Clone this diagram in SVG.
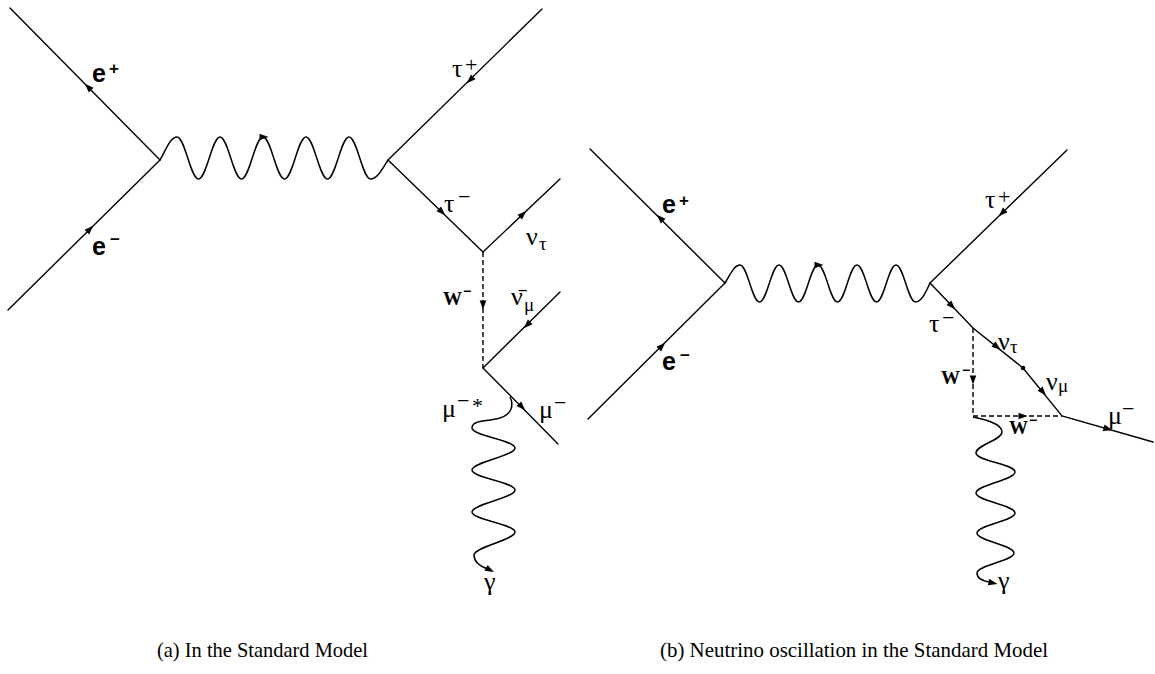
<svg xmlns="http://www.w3.org/2000/svg" xmlns:xlink="http://www.w3.org/1999/xlink" width="1155" height="674" viewBox="0 0 1155 674">
<style>
.ln{stroke:#000;stroke-width:1.4;fill:none;stroke-linecap:round}
.ds{stroke:#000;stroke-width:1.4;fill:none;stroke-dasharray:5,3}
.wv{stroke:#000;stroke-width:1.5;fill:none}
.ah{fill:#000}
.g{font-family:"Liberation Serif","Times New Roman",serif;font-size:26px;fill:#000}
.gs{font-family:"Liberation Serif","Times New Roman",serif;font-size:19px;fill:#000}
.sup{font-family:"Liberation Serif","Times New Roman",serif;font-size:22px;fill:#000}
.e{font-family:"Liberation Sans",Arial,sans-serif;font-weight:bold;font-size:25px;fill:#000}
.es{font-family:"Liberation Sans",Arial,sans-serif;font-weight:bold;font-size:17px;fill:#000}
.w{font-family:"Liberation Serif","Times New Roman",serif;font-weight:bold;font-size:19px;fill:#000}
.ws{font-family:"Liberation Sans",Arial,sans-serif;font-weight:bold;font-size:14px;fill:#000}
.cap{font-family:"Liberation Serif","Times New Roman",serif;font-size:21px;fill:#000}
</style>
<defs>
<path id="ah" class="ah" d="M4.5,0 L-4.5,-3.3 L-4.5,3.3 Z"/>
</defs>
<rect width="1155" height="674" fill="#fff"/>

<g id="connectors">
<!-- left diagram -->
<line class="ln" x1="10" y1="8" x2="160" y2="160"/>
<line class="ln" x1="8" y1="310" x2="160" y2="160"/>
<path class="wv" d="M160,160 C165,152 170,137 177,137 C185,137 190.5,179 198.5,179 C206.5,179 212,137 220,137 C228,137 233.5,179 241.5,179 C249.5,179 255,137 263,137 C271,137 276.5,179 284.5,179 C292.5,179 298,137 306,137 C314,137 319.5,179 327.5,179 C335.5,179 341,137 349,137 C357,137 362.5,179 370.5,179 C377.5,179 383,168 388,160"/>
<line class="ln" x1="388" y1="160" x2="542" y2="9"/>
<line class="ln" x1="388" y1="160" x2="483" y2="252"/>
<line class="ln" x1="483" y1="252" x2="560" y2="179"/>
<line class="ds" x1="483" y1="252" x2="483" y2="368"/>
<line class="ln" x1="483" y1="368" x2="560" y2="292"/>
<line class="ln" x1="483" y1="368" x2="558" y2="444"/>
<path class="wv" d="M510,397 C514,405 512,414 500,418 C485,422 472,420 472,428 C472,436 515,440 515,448 C515,456 472,462 472,470 C472,478 515,482 515,490 C515,498 472,504 472,512 C472,520 515,524 515,532 C515,540 474,547 474,555 C474,562 479,566 488,569"/>
<!-- right diagram -->
<line class="ln" x1="590" y1="149" x2="725" y2="283"/>
<line class="ln" x1="588" y1="419" x2="725" y2="283"/>
<path class="wv" d="M725,283 C730,275 734,265 740,265 C747.5,265 752,302 759.5,302 C767,302 771.5,265 779,265 C786.5,265 791,302 798.5,302 C806,302 810.5,265 818,265 C825.5,265 830,302 837.5,302 C845,302 849.5,265 857,265 C864.5,265 869,302 876.5,302 C884,302 888.5,265 896,265 C903.5,265 908,302 915.5,302 C921.5,302 926,292 930,283"/>
<line class="ln" x1="930" y1="283" x2="1067" y2="150"/>
<polyline class="ln" points="930,283 973,328 1023,368 1062,416 1153,442"/>
<line class="ds" x1="973" y1="328" x2="973" y2="416"/>
<line class="ds" x1="973" y1="416" x2="1062" y2="416"/>
<circle cx="1023" cy="368" r="2.3" fill="#000"/>
<path class="wv" d="M973,417 C983,419 1002,423 1002,432 C1002,440 976,445 976,453 C976,461 1015,464 1015,472 C1015,480 976,485 976,493 C976,501 1015,505 1015,513 C1015,521 977,525 977,533 C977,541 1014,545 1014,553 C1014,561 977,565 977,573 C977,578 982,581 990,582"/>

<!-- arrowheads -->
<use xlink:href="#ah" transform="translate(88,87) rotate(-135)"/>
<use xlink:href="#ah" transform="translate(90,229) rotate(-45)"/>
<use xlink:href="#ah" transform="translate(264,137) rotate(0)"/>
<use xlink:href="#ah" transform="translate(470,80) rotate(135.6)"/>
<use xlink:href="#ah" transform="translate(442,212) rotate(44)"/>
<use xlink:href="#ah" transform="translate(523,214) rotate(-43.5)"/>
<use xlink:href="#ah" transform="translate(483,305) rotate(90)"/>
<use xlink:href="#ah" transform="translate(527,325) rotate(135.4)"/>
<use xlink:href="#ah" transform="translate(522,407) rotate(45.3)"/>
<use xlink:href="#ah" transform="translate(490,570) rotate(28)"/>

<use xlink:href="#ah" transform="translate(660,218) rotate(-135.2)"/>
<use xlink:href="#ah" transform="translate(662,346) rotate(-44.8)"/>
<use xlink:href="#ah" transform="translate(819,265) rotate(0)"/>
<use xlink:href="#ah" transform="translate(1002,213) rotate(135.8)"/>
<use xlink:href="#ah" transform="translate(952,306) rotate(46.3)"/>
<use xlink:href="#ah" transform="translate(997,347) rotate(38.7)"/>
<use xlink:href="#ah" transform="translate(1043,392) rotate(50.3)"/>
<use xlink:href="#ah" transform="translate(1108,429) rotate(16.5)"/>
<use xlink:href="#ah" transform="translate(973,380) rotate(90)"/>
<use xlink:href="#ah" transform="translate(1023,416) rotate(0)"/>
<use xlink:href="#ah" transform="translate(993,583) rotate(12)"/>
</g>

<g id="node-a-eplus"><text class="e" x="92" y="82">e</text><text class="es" x="109" y="74">+</text></g>
<g id="node-a-eminus"><text class="e" x="92" y="255">e</text><text class="es" x="110" y="245">−</text></g>
<g id="node-a-tauplus"><text class="g" x="452" y="77">τ</text><text class="sup" x="465" y="72">+</text></g>
<g id="node-a-tauminus"><text class="g" x="444" y="212">τ</text><text class="sup" x="458" y="204">−</text></g>
<g id="node-a-nutau"><text class="g" x="526" y="245">ν</text><text class="gs" x="539" y="250">τ</text></g>
<g id="node-a-w"><text class="w" x="443" y="305">W</text><text class="ws" x="463" y="296">−</text></g>
<g id="node-a-numubar"><text class="g" x="511" y="305">ν̄</text><text class="gs" x="524" y="311">μ</text></g>
<g id="node-a-mustar"><text class="g" x="442" y="417">μ</text><text class="sup" x="457" y="408">−</text><text class="sup" x="472" y="413">*</text></g>
<g id="node-a-mu"><text class="g" x="539" y="418">μ</text><text class="sup" x="554" y="410">−</text></g>
<g id="node-a-gamma"><text class="g" x="484" y="590">γ</text></g>

<g id="node-b-eplus"><text class="e" x="662" y="213">e</text><text class="es" x="679" y="206">+</text></g>
<g id="node-b-eminus"><text class="e" x="662" y="370">e</text><text class="es" x="680" y="361">−</text></g>
<g id="node-b-tauplus"><text class="g" x="985" y="208">τ</text><text class="sup" x="998" y="204">+</text></g>
<g id="node-b-tauminus"><text class="g" x="929" y="332">τ</text><text class="sup" x="942" y="325">−</text></g>
<g id="node-b-nutau"><text class="g" x="998" y="350">ν</text><text class="gs" x="1010" y="353">τ</text></g>
<g id="node-b-numu"><text class="g" x="1046" y="390">ν</text><text class="gs" x="1058" y="392">μ</text></g>
<g id="node-b-mu"><text class="g" x="1108" y="424">μ</text><text class="sup" x="1122" y="416">−</text></g>
<g id="node-b-w1"><text class="w" x="941" y="384">W</text><text class="ws" x="962" y="375">−</text></g>
<g id="node-b-w2"><text class="w" x="1009" y="434">W</text><text class="ws" x="1029" y="425">−</text></g>
<g id="node-b-gamma"><text class="g" x="998" y="589">γ</text></g>

<g id="captions">
<text class="cap" x="157" y="657" textLength="211" lengthAdjust="spacingAndGlyphs">(a) In the Standard Model</text>
<text class="cap" x="660" y="657" textLength="388" lengthAdjust="spacingAndGlyphs">(b) Neutrino oscillation in the Standard Model</text>
</g>
</svg>
